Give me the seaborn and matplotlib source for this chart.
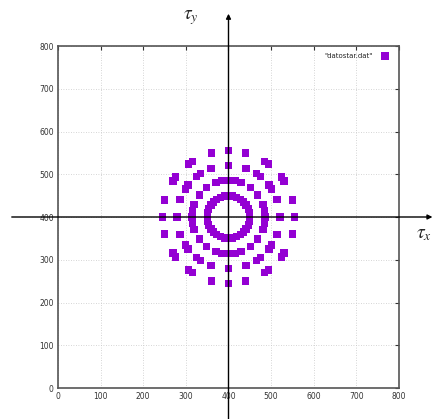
import matplotlib
matplotlib.use('Agg')
import matplotlib.pyplot as plt
import seaborn as sns
import numpy as np
import pandas as pd

# Rings of the star (centre 400,400)
center_x = 400
center_y = 400
ring_radius = [50, 86, 121, 155]
# first-quadrant angles (deg) of the points on each ring; pattern is mirror symmetric
ring_angles = [
	[0, 11, 22, 34, 45, 56, 68, 79, 90],
	[0, 10, 20, 37, 53, 70, 80, 90],
	[0, 20, 33, 38, 52, 57, 70, 90],
	[0, 15, 33, 37, 53, 57, 75, 90],
]
ticks = [0, 100, 200, 300, 400, 500, 600, 700, 800]
series_name = '"datostar.dat"'

xs, ys = [], []
for r, angs in zip(ring_radius, ring_angles):
	full = set()
	for a in angs:
		for b in (a, 180 - a, 180 + a, 360 - a):
			full.add(b % 360)
	for b in sorted(full):
		xs.append(center_x + r * np.cos(np.radians(b)))
		ys.append(center_y + r * np.sin(np.radians(b)))

data = pd.DataFrame({'x': xs, 'y': ys, 'file': series_name})

sns.set_theme(style='white')
plt.rcParams['mathtext.fontset'] = 'stix'

fig = plt.figure(figsize=(4.35, 4.19), dpi=100)
ax = fig.add_axes([58 / 435, 31 / 419, 341 / 435, 342 / 419])

sns.scatterplot(
	data=data,
	x='x',
	y='y',
	hue='file',
	palette=['#9400D3'],
	marker='s',
	s=28,
	linewidth=0,
	ax=ax,
)

ax.set_xlim(0, 800)
ax.set_ylim(0, 800)
ax.set_xticks(ticks)
ax.set_yticks(ticks)
ax.set_xlabel('')
ax.set_ylabel('')
ax.tick_params(direction='in', length=3, width=0.8, labelsize=5.5, colors='#333333',
	top=True, right=True, pad=3)
ax.grid(True, linestyle=(0, (1, 2)), color='#c8c8c8', linewidth=0.6)
for s in ax.spines.values():
	s.set_color('#555555')
	s.set_linewidth(1.2)

# coordinate axes with arrow heads, drawn past the plot frame
ax.annotate('', xy=(400, 882), xytext=(400, -80), xycoords='data',
	arrowprops=dict(arrowstyle='-|>', color='black', lw=1.0, mutation_scale=7),
	annotation_clip=False)
ax.annotate('', xy=(885, 400), xytext=(-115, 400), xycoords='data',
	arrowprops=dict(arrowstyle='-|>', color='black', lw=1.0, mutation_scale=7),
	annotation_clip=False)
ax.text(312, 866, r'$\tau_y$', fontsize=14, ha='center', va='center', clip_on=False)
ax.text(858, 362, r'$\tau_x$', fontsize=14, ha='center', va='center', clip_on=False)

ax.legend(loc='upper right', frameon=False, markerfirst=False, fontsize=5,
	markerscale=1.2, handletextpad=0.8, borderaxespad=0.6)

fig.savefig('out.png', dpi=100)
